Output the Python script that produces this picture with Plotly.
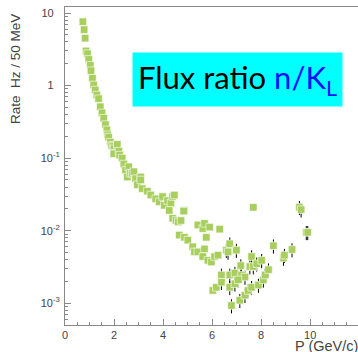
import plotly.graph_objects as go

# momentum [GeV/c] and rate [Hz / 50 MeV]
p_low = [0.73, 0.78, 0.82, 0.86, 0.92, 0.97, 1.03, 1.06, 1.12, 1.17, 1.23, 1.30,
         1.37, 1.44, 1.51, 1.58, 1.65, 1.71, 1.74, 1.78, 1.85, 1.90, 1.96, 2.00,
         2.06, 1.99, 2.13, 2.20, 2.23, 2.33, 2.40, 2.47, 2.54, 2.60, 2.67, 2.74,
         2.81, 2.88, 2.95, 3.09, 3.09, 3.15, 3.36, 3.50, 3.70, 3.84, 3.98, 4.05,
         4.18, 4.32, 4.39, 4.46, 4.25, 4.39, 4.53, 4.62, 4.73, 4.87, 4.84, 4.66,
         4.87, 5.01, 5.21, 5.28, 5.42, 5.42, 5.62, 5.69, 5.90, 6.31, 5.76, 5.69,
         5.62, 5.83, 5.97, 6.10, 6.24, 6.03, 6.17, 7.68]
rate_low = [7.6, 5.9, 4.5, 3.0, 2.75, 2.3, 1.9, 1.6, 1.26, 1.02, 0.87, 0.74,
            0.66, 0.51, 0.42, 0.355, 0.29, 0.245, 0.21, 0.195, 0.166, 0.15, 0.145, 0.135,
            0.117, 0.115, 0.155, 0.125, 0.11, 0.10, 0.083, 0.068, 0.055, 0.076, 0.062, 0.062,
            0.065, 0.052, 0.043, 0.055, 0.05, 0.038, 0.035, 0.031, 0.0275, 0.025, 0.0295, 0.0224,
            0.026, 0.024, 0.0295, 0.031, 0.019, 0.0148, 0.0138, 0.0132, 0.0138, 0.019, 0.0186, 0.0087,
            0.0081, 0.0074, 0.006, 0.0051, 0.0051, 0.012, 0.0107, 0.0126, 0.0112, 0.0105, 0.0081, 0.0056,
            0.0044, 0.0039, 0.0037, 0.0044, 0.0046, 0.0015, 0.00166, 0.021]

# high-momentum points carry visible error bars
p_high = [6.58, 6.72, 6.65, 6.99, 7.61, 7.17, 6.38, 6.72, 6.93, 7.20, 7.34, 7.54,
          7.68, 7.82, 8.02, 6.38, 6.72, 6.93, 7.06, 7.13, 7.34, 7.47, 7.61, 7.89,
          8.09, 8.16, 8.30, 6.79, 8.50, 8.91, 8.95, 9.26, 9.56, 9.63, 9.84, 9.90]
rate_high = [0.0054, 0.0066, 0.0051, 0.0054, 0.0044, 0.0033, 0.00245, 0.00245, 0.0026, 0.00245, 0.0023, 0.0032,
             0.0032, 0.0035, 0.0039, 0.00195, 0.00166, 0.00186, 0.0021, 0.0011, 0.00129, 0.0015, 0.00166, 0.00178,
             0.0021, 0.00245, 0.0029, 0.00093, 0.0062, 0.0042, 0.0046, 0.0055, 0.021, 0.0195, 0.0095, 0.0095]

y_tickvals = [10, 1, 0.1, 0.01, 0.001]
y_ticktext = ["10\u00a0\u00a0", "1\u00a0\u00a0", "10<sup>-1</sup>", "10<sup>-2</sup>", "10<sup>-3</sup>"]

GREEN = "#a8cf5e"
AXIS = "#888888"
LABEL = "#444444"

fig = go.Figure()
fig.add_trace(go.Scatter(
    x=p_low, y=rate_low, mode="markers",
    marker=dict(symbol="square", size=7.5, color=GREEN, line=dict(width=0.6, color="white")),
    showlegend=False,
))
fig.add_trace(go.Scatter(
    x=p_high, y=rate_high, mode="markers",
    marker=dict(symbol="square", size=7.5, color=GREEN, line=dict(width=0.6, color="white")),
    error_y=dict(type="percent", value=22, color="black", thickness=1, width=0),
    showlegend=False,
))

fig.update_xaxes(
    range=[0, 11.95], showgrid=False, zeroline=False,
    showline=True, linecolor=AXIS, linewidth=1, mirror=True,
    ticks="inside", ticklen=6, tickcolor=AXIS, dtick=2,
    minor=dict(ticks="inside", ticklen=3, tickcolor=AXIS, dtick=0.5),
    tickfont=dict(family="Liberation Sans", size=11, color=LABEL),
)
fig.update_yaxes(
    type="log", range=[-3.30, 1.083], showgrid=False, zeroline=False,
    showline=True, linecolor=AXIS, linewidth=1,
    ticks="inside", ticklen=6, tickcolor=AXIS,
    tickvals=y_tickvals, ticktext=y_ticktext, ticklabelstandoff=2,
    minor=dict(ticks="inside", ticklen=3, tickcolor=AXIS, dtick="D1"),
    tickfont=dict(family="Liberation Sans", size=11, color=LABEL),
)

# plot area in pixels: x 65..358, y 7..325
fig.add_annotation(
    xref="paper", yref="paper", x=(15 - 65) / 293, y=(325 - 12) / 318,
    xanchor="center", yanchor="top",
    text="Rate  Hz / 50 MeV", textangle=-90, showarrow=False,
    font=dict(family="Liberation Sans", size=13.5, color=LABEL),
)
fig.add_annotation(
    xref="paper", yref="paper", x=(360 - 65) / 293, y=(325 - 336) / 318,
    xanchor="right", yanchor="top",
    text="P (GeV/c)", showarrow=False,
    font=dict(family="Liberation Sans", size=14.5, color=LABEL),
)
fig.add_annotation(
    xref="paper", yref="paper", x=(237 - 65) / 293, y=(325 - 79.5) / 318,
    xanchor="center", yanchor="middle",
    text="Flux ratio <span style='color:#1010ff'>n/K<sub>L</sub></span>",
    showarrow=False, bgcolor="#00ffff", borderpad=5,
    font=dict(family="Lato", size=31, color="black"),
)

fig.update_layout(
    width=358, height=352,
    margin=dict(l=65, r=0, t=7, b=27),
    plot_bgcolor="white", paper_bgcolor="white",
)

# drop the browser's default body margin so the figure sits at the page corner
fig.write_html("out.html", config={"displayModeBar": False},
               post_script="document.body.style.margin='0';")
